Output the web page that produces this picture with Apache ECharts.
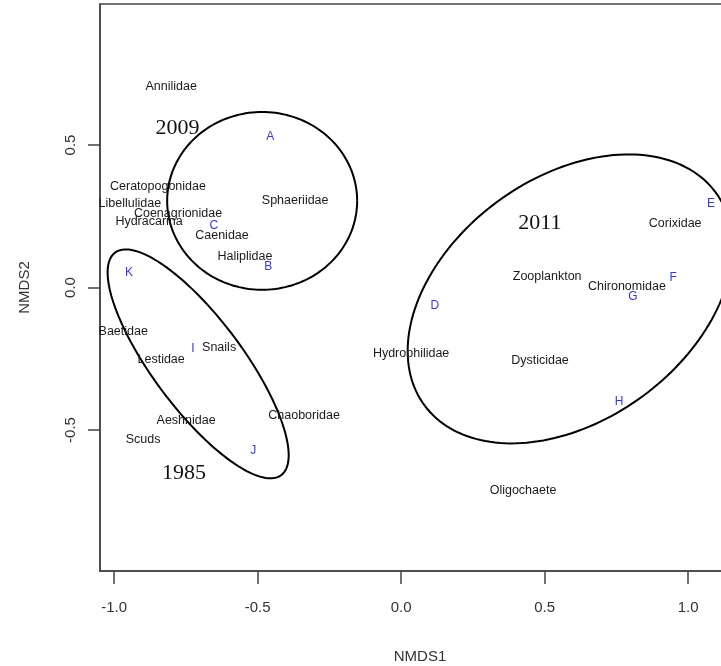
<!DOCTYPE html>
<html>
<head>
<meta charset="utf-8">
<script src="https://cdn.jsdelivr.net/npm/echarts@6/dist/echarts.min.js"></script>
<style>
  html, body { margin: 0; padding: 0; background: #fff; }
  #chart { width: 721px; height: 666px; }
</style>
</head>
<body>
<div id="chart"></div>
<script>
// Species scores (NMDS1, NMDS2)
const speciesNames = ['Annilidae', 'Ceratopogonidae', 'Libellulidae', 'Coenagrionidae', 'Hydracarina',
  'Caenidae', 'Sphaeriidae', 'Haliplidae', 'Baetidae', 'Snails', 'Lestidae', 'Aeshnidae', 'Scuds',
  'Chaoboridae', 'Hydrophilidae', 'Zooplankton', 'Chironomidae', 'Corixidae', 'Dysticidae', 'Oligochaete'];
const speciesX = [-0.801, -0.847, -0.945, -0.777, -0.878, -0.624, -0.369, -0.544, -0.968, -0.634,
  -0.836, -0.749, -0.899, -0.338, 0.035, 0.509, 0.787, 0.955, 0.484, 0.425];
const speciesY = [0.704, 0.353, 0.296, 0.258, 0.230, 0.181, 0.304, 0.107, -0.156, -0.209,
  -0.254, -0.468, -0.535, -0.451, -0.233, 0.040, 0.002, 0.223, -0.257, -0.714];

// Site scores
const siteNames = ['A', 'B', 'C', 'D', 'E', 'F', 'G', 'H', 'I', 'J', 'K'];
const siteX = [-0.456, -0.463, -0.652, 0.118, 1.080, 0.948, 0.808, 0.760, -0.725, -0.515, -0.948];
const siteY = [0.528, 0.072, 0.216, -0.065, 0.293, 0.033, -0.033, -0.402, -0.216, -0.574, 0.051];

// Group ellipses: centre, semi-axes and rotation (degrees)
const groupNames = ['2009', '1985', '2011'];
const ellipseCX = [-0.484, -0.707, 0.589];
const ellipseCY = [0.304, -0.268, -0.040];
const ellipseA = [0.331, 0.486, 0.630];
const ellipseB = [0.312, 0.157, 0.425];
const ellipseAngle = [0, -53.5, 36.5];

// Group label positions
const groupLabelX = [-0.779, -0.756, 0.484];
const groupLabelY = [0.559, -0.651, 0.226];

// Axis ticks
const xTicks = [-1.0, -0.5, 0.0, 0.5, 1.0];
const yTicks = [-0.5, 0.0, 0.5];

const chart = echarts.init(document.getElementById('chart'), null, { renderer: 'canvas' });

function textSeries(names, xs, ys, color, font) {
  return {
    type: 'custom',
    silent: true,
    clip: false,
    data: names.map((n, i) => [xs[i], ys[i], i]),
    encode: { x: 0, y: 1 },
    z: 5,
    renderItem: function (params, api) {
      const p = api.coord([api.value(0), api.value(1)]);
      return {
        type: 'text',
        x: p[0],
        y: p[1],
        style: {
          text: names[api.value(2)],
          fill: color,
          font: font,
          textAlign: 'center',
          textVerticalAlign: 'middle'
        }
      };
    }
  };
}

const ellipseSeries = {
  type: 'custom',
  silent: true,
  clip: false,
  data: groupNames.map((g, i) => [ellipseCX[i], ellipseCY[i], i]),
  encode: { x: 0, y: 1 },
  z: 3,
  renderItem: function (params, api) {
    const i = api.value(2);
    const th = ellipseAngle[i] * Math.PI / 180;
    const pts = [];
    const N = 180;
    for (let k = 0; k <= N; k++) {
      const t = 2 * Math.PI * k / N;
      const ex = ellipseA[i] * Math.cos(t);
      const ey = ellipseB[i] * Math.sin(t);
      const x = ellipseCX[i] + ex * Math.cos(th) - ey * Math.sin(th);
      const y = ellipseCY[i] + ex * Math.sin(th) + ey * Math.cos(th);
      pts.push(api.coord([x, y]));
    }
    return {
      type: 'polyline',
      shape: { points: pts },
      style: { stroke: '#000', fill: null, lineWidth: 2 }
    };
  }
};

const axisColor = '#444';

chart.setOption({
  animation: false,
  backgroundColor: '#fff',
  grid: {
    left: 100, top: 4, bottom: 95, right: -19,
    containLabel: false,
    outerBoundsMode: 'none',
    show: true, borderColor: axisColor, borderWidth: 1.5, backgroundColor: 'transparent'
  },
  xAxis: {
    type: 'value',
    min: -1.049, max: 1.181,
    name: 'NMDS1',
    nameLocation: 'middle',
    nameGap: 78,
    nameTextStyle: { fontFamily: 'Liberation Sans', fontSize: 15, color: '#333' },
    splitLine: { show: false },
    axisLine: { show: true, onZero: false, lineStyle: { color: axisColor, width: 1.5 } },
    axisTick: { show: true, inside: false, length: 13, customValues: xTicks,
      lineStyle: { color: axisColor, width: 1.5 } },
    axisLabel: { show: true, customValues: xTicks, margin: 29,
      fontFamily: 'Liberation Sans', fontSize: 15, color: '#333',
      formatter: v => v.toFixed(1) }
  },
  yAxis: {
    type: 'value',
    min: -0.995, max: 0.995,
    name: 'NMDS2',
    nameLocation: 'middle',
    nameGap: 68,
    nameRotate: 90,
    nameTextStyle: { fontFamily: 'Liberation Sans', fontSize: 15, color: '#333' },
    splitLine: { show: false },
    axisLine: { show: true, onZero: false, lineStyle: { color: axisColor, width: 1.5 } },
    axisTick: { show: true, inside: false, length: 12, customValues: yTicks,
      lineStyle: { color: axisColor, width: 1.5 } },
    axisLabel: { show: true, customValues: yTicks, margin: 22, rotate: 90,
      fontFamily: 'Liberation Sans', fontSize: 15, color: '#333',
      formatter: v => v.toFixed(1) }
  },
  series: [
    ellipseSeries,
    textSeries(speciesNames, speciesX, speciesY, '#1a1a1a', '12.5px "Liberation Sans"'),
    textSeries(siteNames, siteX, siteY, '#3434ff', '12px "Liberation Sans"'),
    textSeries(groupNames, groupLabelX, groupLabelY, '#111', '22px "Liberation Serif"')
  ]
});
</script>
</body>
</html>
